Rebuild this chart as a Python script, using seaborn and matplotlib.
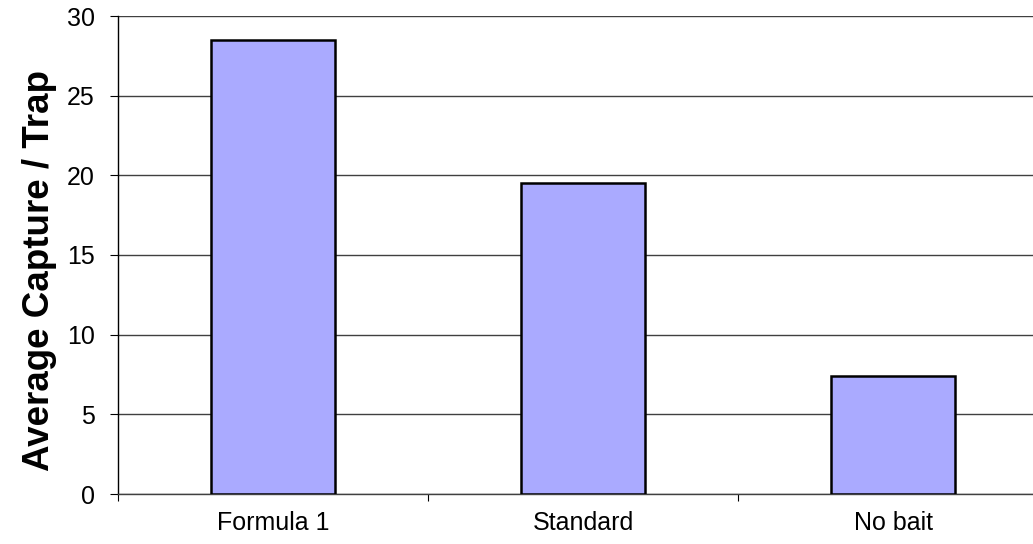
import matplotlib
matplotlib.use("Agg")
import matplotlib.pyplot as plt
import seaborn as sns
from matplotlib.ticker import FixedLocator

# data
baits = ["Formula 1", "Standard", "No bait"]
avg_capture = [28.5, 19.5, 7.4]
y_ticks = [0, 5, 10, 15, 20, 25, 30]

sns.set_style("white")
plt.rcParams['font.family'] = ['Liberation Sans', 'DejaVu Sans']
plt.rcParams['text.color'] = 'black'
plt.rcParams['axes.labelcolor'] = 'black'
plt.rcParams['xtick.color'] = 'black'
plt.rcParams['ytick.color'] = 'black'

fig = plt.figure(figsize=(10.33, 5.44), dpi=100)
# right edge of the plot runs past the figure, like in the reference
ax = fig.add_axes([118 / 1033, 50 / 544, 930 / 1033, 478 / 544])

sns.barplot(x=baits, y=avg_capture, ax=ax,
    color="#AAAAFF",
    saturation=1,
    width=0.4,
    edgecolor="black",
    linewidth=1.8,
    zorder=3)

ax.set_xlim(-0.5, 2.5)
ax.set_ylim(0, 30)
ax.set_yticks(y_ticks)
ax.set_yticklabels([str(t) for t in y_ticks])

# gridlines
ax.yaxis.grid(True, color="#404040", linewidth=1.0, zorder=0)
ax.xaxis.grid(False)

# spines
for s in ["top", "right"]:
    ax.spines[s].set_visible(False)
ax.spines["left"].set_color("black")
ax.spines["left"].set_linewidth(1.0)
ax.spines["bottom"].set_color("#404040")
ax.spines["bottom"].set_linewidth(1.0)

# ticks: labels at centres, tick marks at category boundaries
ax.tick_params(axis="y", which="major", direction="out", length=5.8, width=0.8,
               color="black", pad=11, labelsize=18, left=True, labelcolor="black")
ax.tick_params(axis="x", which="major", length=0, pad=12, labelsize=18, bottom=True,
               labelcolor="black")
ax.xaxis.set_minor_locator(FixedLocator([-0.5, 0.5, 1.5]))
ax.tick_params(axis="x", which="minor", direction="out", length=5, width=0.8,
               color="black", bottom=True)

ax.set_xlabel("")
ax.set_ylabel("Average Capture / Trap", fontsize=26.5, fontweight="bold", color="black")
ax.yaxis.set_label_coords(-0.066, 0.468)

fig.savefig("out.png", dpi=100)
